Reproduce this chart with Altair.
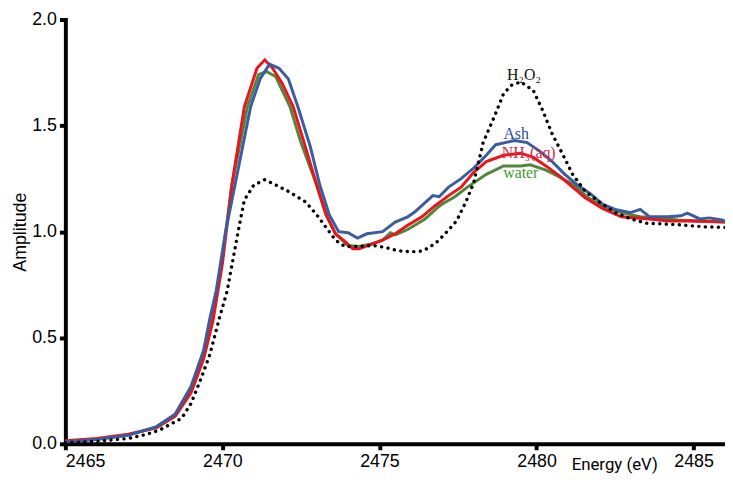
import altair as alt
import pandas as pd

# ---- data ----
ash_e = [2465.0, 2466.0, 2467.0, 2467.9, 2468.5, 2469.0, 2469.4, 2469.6, 2469.8, 2470.1, 2470.4,
         2470.9, 2471.2, 2471.5, 2471.8, 2472.1, 2472.4, 2472.8, 2473.1, 2473.4, 2473.7, 2474.0,
         2474.3, 2474.6, 2475.1, 2475.5, 2475.9, 2476.1, 2476.4, 2476.7, 2476.9, 2477.2, 2477.6,
         2478.0, 2478.2, 2478.4, 2478.7, 2479.0, 2479.3, 2479.7, 2480.1, 2480.5, 2480.9, 2481.3,
         2481.7, 2482.1, 2482.5, 2483.0, 2483.3, 2483.6, 2484.2, 2484.6, 2484.8, 2485.2, 2485.5,
         2485.9, 2486.0]
ash_a = [0.01, 0.02, 0.04, 0.08, 0.14, 0.27, 0.44, 0.59, 0.72, 1.00, 1.22,
         1.59, 1.72, 1.79, 1.77, 1.72, 1.59, 1.40, 1.22, 1.08, 1.00, 0.995,
         0.97, 0.99, 1.00, 1.045, 1.07, 1.09, 1.13, 1.17, 1.165, 1.21, 1.25,
         1.30, 1.33, 1.36, 1.41, 1.42, 1.43, 1.42, 1.38, 1.33, 1.27, 1.22,
         1.18, 1.13, 1.105, 1.09, 1.105, 1.07, 1.07, 1.075, 1.087, 1.06, 1.065,
         1.055, 1.05]

nh3_e = [2465.0, 2466.0, 2467.0, 2467.9, 2468.5, 2469.0, 2469.4, 2469.7, 2470.0, 2470.3, 2470.7,
         2471.1, 2471.35, 2471.6, 2471.9, 2472.25, 2472.6, 2473.0, 2473.3, 2473.6, 2473.85,
         2474.15, 2474.35, 2474.65, 2475.1, 2475.5, 2475.9, 2476.35, 2476.75, 2477.2, 2477.6,
         2478.0, 2478.4, 2478.95, 2479.5, 2479.9, 2480.3, 2480.75, 2481.15, 2481.55, 2482.1,
         2482.7, 2483.6, 2484.2, 2484.8, 2485.5, 2486.0]
nh3_a = [0.015, 0.025, 0.045, 0.075, 0.13, 0.24, 0.40, 0.58, 0.85, 1.22, 1.59,
         1.77, 1.81, 1.77, 1.70, 1.59, 1.42, 1.22, 1.08, 0.99, 0.96,
         0.92, 0.92, 0.935, 0.96, 0.99, 1.03, 1.07, 1.12, 1.17, 1.21,
         1.28, 1.33, 1.36, 1.37, 1.35, 1.31, 1.26, 1.21, 1.16, 1.11,
         1.07, 1.06, 1.05, 1.05, 1.048, 1.045]

water_e = [2465.0, 2466.0, 2467.0, 2467.9, 2468.5, 2469.0, 2469.4, 2469.7, 2470.0, 2470.3, 2470.8,
           2471.15, 2471.4, 2471.7, 2472.15, 2472.5, 2473.0, 2473.3, 2473.6, 2474.0, 2474.35,
           2474.8, 2475.1, 2475.35, 2475.5, 2475.9, 2476.45, 2476.9, 2477.0, 2477.4, 2477.8,
           2478.0, 2478.4, 2478.95, 2479.5, 2479.8, 2480.3, 2480.7, 2481.2, 2481.6, 2482.1,
           2482.7, 2483.3, 2483.9, 2484.5, 2485.2, 2486.0]
water_a = [0.012, 0.022, 0.042, 0.08, 0.14, 0.26, 0.43, 0.60, 0.88, 1.22, 1.59,
           1.74, 1.755, 1.73, 1.59, 1.42, 1.22, 1.08, 0.99, 0.935, 0.93,
           0.945, 0.96, 0.995, 0.985, 1.01, 1.06, 1.12, 1.13, 1.165, 1.21,
           1.23, 1.27, 1.31, 1.31, 1.315, 1.29, 1.26, 1.22, 1.165, 1.12,
           1.09, 1.07, 1.065, 1.055, 1.05, 1.045]

h2o2_e = [2465.0, 2466.0, 2467.0, 2467.6, 2468.0, 2468.7, 2469.0, 2469.3, 2469.6, 2469.9, 2470.15,
          2470.5, 2470.7, 2471.0, 2471.35, 2471.7, 2472.1, 2472.65, 2473.0, 2473.3, 2473.6,
          2473.9, 2474.3, 2474.8, 2475.2, 2475.6, 2476.0, 2476.3, 2476.55, 2476.85, 2477.15,
          2477.45, 2477.75, 2478.0, 2478.3, 2478.65, 2478.95, 2479.2, 2479.5, 2479.9, 2480.2,
          2480.5, 2480.85, 2481.15, 2481.55, 2482.0, 2482.5, 2483.0, 2483.5, 2484.0, 2484.6,
          2485.3, 2486.0]
h2o2_a = [0.005, 0.012, 0.025, 0.045, 0.065, 0.12, 0.19, 0.30, 0.42, 0.59, 0.72,
          1.00, 1.15, 1.22, 1.245, 1.22, 1.19, 1.14, 1.08, 1.02, 0.96,
          0.93, 0.93, 0.935, 0.925, 0.91, 0.905, 0.908, 0.922, 0.954, 1.00,
          1.05, 1.14, 1.23, 1.42, 1.54, 1.65, 1.69, 1.706, 1.665, 1.57,
          1.46, 1.36, 1.27, 1.19, 1.14, 1.09, 1.06, 1.04, 1.037, 1.032,
          1.023, 1.02]

label_text = ["H₂O₂", "Ash", "NH₃(aq)", "water"]
label_e = [2479.6, 2479.35, 2479.75, 2479.5]
label_a = [1.74, 1.46, 1.37, 1.275]
label_color = ["#111111", "#2C4B9E", "#D42A45", "#3F9A2C"]

x_ticks = [2465, 2470, 2475, 2480, 2485]
y_ticks = [0.0, 0.5, 1.0, 1.5, 2.0]

# ---- build tables ----
def frame(e, a, name):
    df = pd.DataFrame({"energy": e, "amp": a, "series": name})
    df["order_idx"] = range(len(df))
    return df

xs = alt.Scale(domain=[2465, 2486], nice=False, zero=False)
ys = alt.Scale(domain=[0, 2.0], nice=False)

X = alt.X("energy:Q", scale=xs,
          axis=alt.Axis(values=x_ticks, format="d", title="Energy (eV)",
                        titleX=555, titleY=13, titleBaseline="top", titleAlign="center",
                        titleFont="Liberation Sans Narrow, Roboto", titleFontSize=17,
                        titleFontWeight="normal"))
Y = alt.Y("amp:Q", scale=ys,
          axis=alt.Axis(values=y_ticks, format=".1f", title="Amplitude", titlePadding=2,
                        titleFont="Liberation Sans", titleFontSize=18, titleFontWeight="normal"))

def line(df, color, dash=None, width=3):
    kw = dict(color=color, strokeWidth=width, interpolate="linear")
    if dash:
        kw.update(strokeDash=dash, strokeCap="round")
    return alt.Chart(df).mark_line(**kw).encode(x=X, y=Y, order="order_idx:Q")

h2o2 = frame(h2o2_e, h2o2_a, "H2O2")
water = frame(water_e, water_a, "water")
nh3 = frame(nh3_e, nh3_a, "NH3")
ash = frame(ash_e, ash_a, "Ash")

labels = pd.DataFrame({"energy": label_e, "amp": label_a, "text": label_text, "col": label_color})

text = alt.Chart(labels).mark_text(font="Liberation Serif", fontSize=16, baseline="middle",
                                   align="center").encode(
    x=alt.X("energy:Q", scale=xs), y=alt.Y("amp:Q", scale=ys),
    text="text:N", color=alt.Color("col:N", scale=None))

chart = alt.layer(
    line(water, "#51873B"),
    line(nh3, "#E8151C"),
    line(ash, "#3B5C9E"),
    line(h2o2, "#000000", dash=[0.1, 6.5], width=3.4),
    text,
).properties(
    width=667, height=429,
    autosize=alt.AutoSizeParams(type="none"),
    padding={"left": 58, "top": 9, "right": 0, "bottom": 40},
).configure_view(stroke=None).configure_axis(
    grid=False, domainColor="black", domainWidth=4, tickColor="black", tickWidth=4,
    tickSize=6, labelColor="black", titleColor="black", labelFont="Liberation Sans",
    labelFontSize=18, labelPadding=3, domainCap="square",
)

chart.save("out.html", embed_options={"renderer": "svg", "actions": False})
